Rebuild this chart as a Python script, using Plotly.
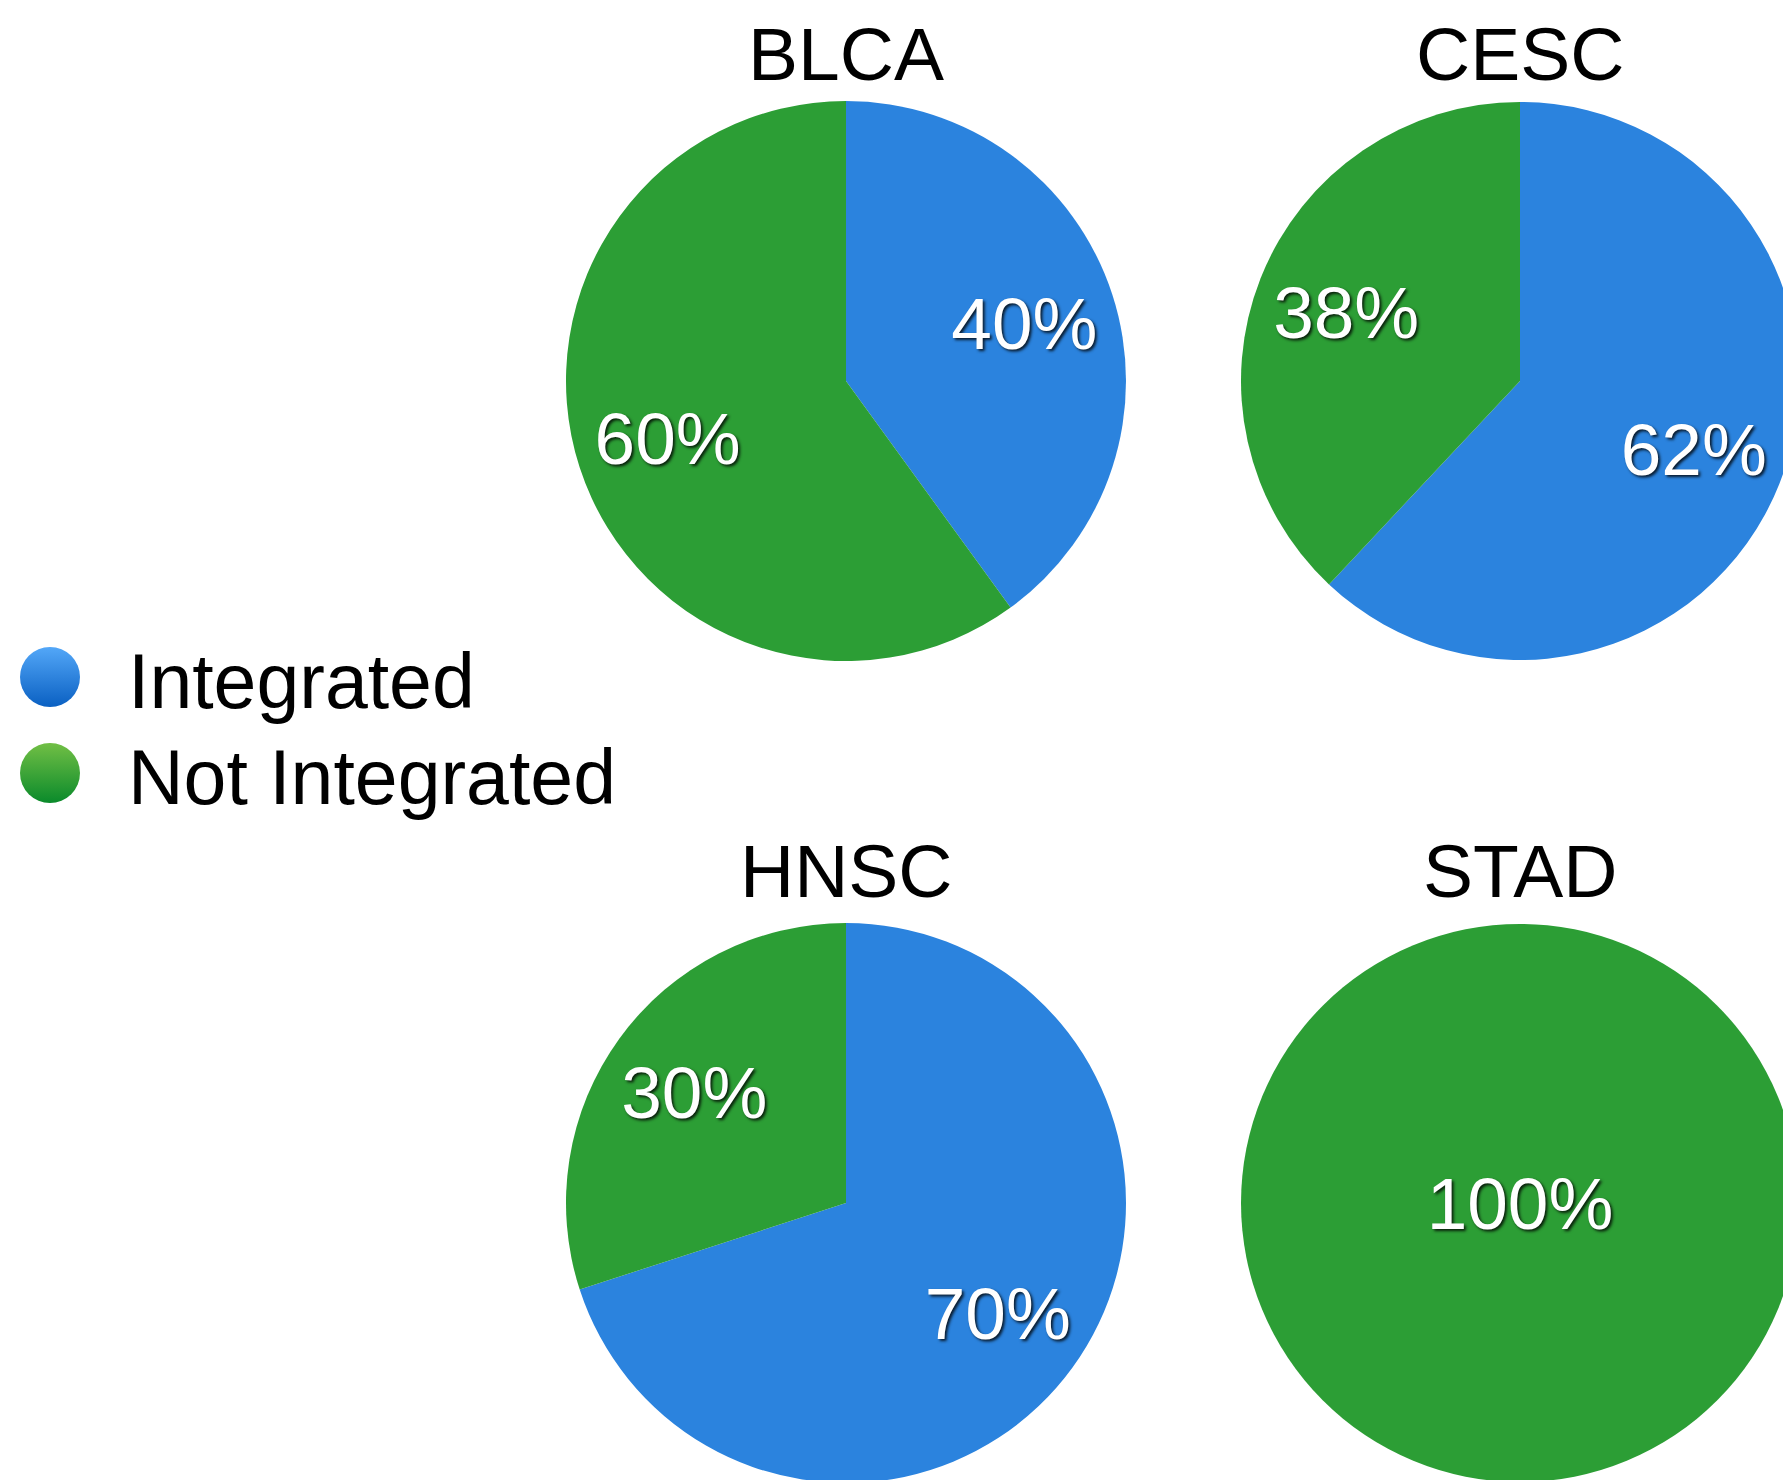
import plotly.graph_objects as go

# ---- data ----
cancers = ["BLCA", "CESC", "HNSC", "STAD"]
categories = ["Integrated", "Not Integrated"]
integrated_pct = [40, 62, 70, 0]
not_integrated_pct = [60, 38, 30, 100]

# ---- styling / layout ----
W, H = 1791, 1480
FONT = "Liberation Sans, Arial, Helvetica, sans-serif"
slice_colors = ["#2B83DE", "#2C9E35"]
legend_top = ["#53A7F8", "#71BF45"]
legend_bottom = ["#0A60C2", "#0A8A2B"]
label_shadow = "2px 2px 3px rgba(0,0,0,0.8)"

# pixel boxes of the pie cells in figure coordinates (left/right columns, top/bottom rows)
col_px = [(558, 1118), (1233, 1791)]
row_px = [(93, 653), (915, 1475)]
title_center_px = [46, 863]

fig = go.Figure()

for i, cancer in enumerate(cancers):
    r, c = divmod(i, 2)
    x0, x1 = col_px[c]
    y0, y1 = row_px[r]
    dom = dict(x=[max(0, x0 / W), min(1, x1 / W)],
               y=[max(0, 1 - y1 / H), min(1, 1 - y0 / H)])
    values = [integrated_pct[i], not_integrated_pct[i]]
    full = max(values) == sum(values)

    # slices
    fig.add_trace(go.Pie(
        labels=categories, values=values, domain=dom, name=cancer,
        sort=False, direction="clockwise", rotation=0,
        marker=dict(colors=slice_colors, line=dict(width=0)),
        textinfo="none", showlegend=False,
        hovertemplate=cancer + "<br>%{label}: %{percent}<extra></extra>",
    ))
    # percentage labels (same geometry, transparent fill, pushed outward)
    fig.add_trace(go.Pie(
        labels=categories, values=values, domain=dom, name=cancer + " labels",
        sort=False, direction="clockwise", rotation=0,
        hole=0 if full else 0.34,
        marker=dict(colors=["rgba(0,0,0,0)"] * 2, line=dict(width=0)),
        textinfo="percent", textposition="inside",
        insidetextorientation="horizontal",
        textfont=dict(family=FONT, size=73, color="white", shadow=label_shadow),
        insidetextfont=dict(family=FONT, size=73, color="white", shadow=label_shadow),
        showlegend=False, hoverinfo="skip",
    ))
    fig.add_annotation(
        text=cancer, xref="paper", yref="paper",
        x=(dom["x"][0] + dom["x"][1]) / 2, y=1 - title_center_px[r] / H,
        xanchor="center", yanchor="middle", showarrow=False,
        font=dict(family=FONT, size=75, color="black"),
    )

# ---- legend (drawn as markers + text on hidden axes) ----
idx = list(range(len(categories)))
fig.add_trace(go.Scatter(
    x=[0] * len(categories), y=idx, mode="markers",
    marker=dict(size=60, symbol="circle", color=legend_top,
                gradient=dict(type="vertical", color=legend_bottom),
                line=dict(width=0)),
    showlegend=False, hoverinfo="skip", cliponaxis=False,
))
fig.add_trace(go.Scatter(
    x=[1] * len(categories), y=[k + 0.125 for k in idx], mode="text",
    text=categories, textposition="middle right",
    textfont=dict(family=FONT, size=77, color="black"),
    showlegend=False, hoverinfo="skip", cliponaxis=False,
))

leg_dom_x = [0, 0.4]
fig.update_layout(
    width=W, height=H,
    margin=dict(l=0, r=0, t=0, b=0, pad=0),
    paper_bgcolor="white", plot_bgcolor="rgba(0,0,0,0)",
    showlegend=False,
    font=dict(family=FONT),
    xaxis=dict(domain=leg_dom_x, range=[-42 / 78, (leg_dom_x[1] * W - 42) / 78],
               visible=False, fixedrange=True),
    yaxis=dict(domain=[(H - 813) / H, (H - 621) / H], range=[1.5, -0.5],
               visible=False, fixedrange=True),
)

fig.write_html("out.html")
